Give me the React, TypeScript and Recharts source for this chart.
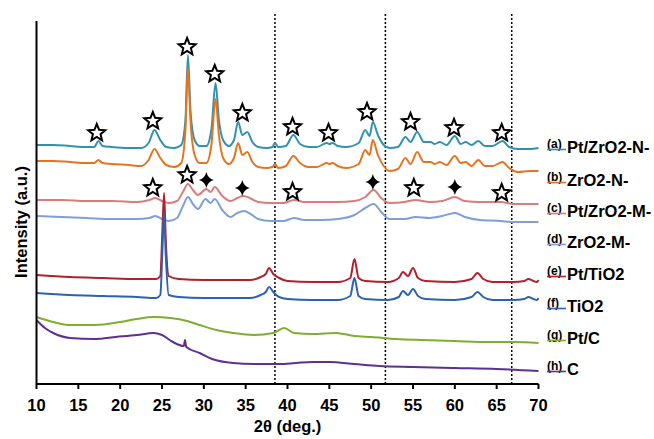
import { LineChart, Line, XAxis, YAxis, ReferenceLine, ReferenceDot } from "recharts";

type Pt = [number, number];

// 2θ (deg.) vs intensity (a.u., stacked offsets as in the figure)
const ptZrO2N: Pt[] = [
  [10, 239], [12, 239], [14, 238], [16, 237], [16.9, 237], [17.4, 243], [17.9, 238], [19, 237],
  [21, 236], [22.5, 236], [23.4, 241], [24.1, 254], [24.8, 244], [25.5, 237], [26.5, 236], [27.3, 239],
  [27.8, 264], [28.1, 329], [28.4, 274], [28.9, 244], [29.5, 238], [30.3, 238], [30.9, 254], [31.4, 301],
  [31.8, 264], [32.3, 244], [33.0, 238], [33.6, 244], [34.1, 262], [34.6, 249], [35.2, 252], [35.8, 242],
  [36.5, 237], [37.5, 236], [38.2, 237], [38.5, 241], [38.9, 237], [39.8, 238], [40.7, 249], [41.5, 240],
  [42.5, 237], [43.5, 237], [44.7, 241], [45.0, 240], [45.4, 241], [46.0, 238], [47, 237], [48.5, 241],
  [49.3, 254], [49.8, 248], [50.2, 262], [50.8, 249], [51.5, 239], [52.2, 236], [53.2, 237], [54.1, 247],
  [54.7, 242], [55.5, 252], [56.3, 242], [57.1, 242], [57.6, 240], [58.2, 242], [59.0, 239], [60.0, 248],
  [60.7, 240], [61.3, 242], [62.0, 239], [62.8, 243], [63.6, 238], [64.5, 238], [65.7, 243], [66.5, 237],
  [67.5, 235], [69, 235], [70, 236],
];

const zrO2N: Pt[] = [
  [10, 223], [12, 223], [14, 222], [16, 221], [16.9, 221], [17.4, 224], [17.9, 221], [19, 220],
  [21, 219], [22.5, 218], [23.4, 224], [24.1, 235], [24.8, 226], [25.5, 219], [26.5, 217], [27.3, 221],
  [27.8, 254], [28.1, 317], [28.4, 264], [28.9, 229], [29.5, 221], [30.3, 221], [30.9, 239], [31.4, 285],
  [31.8, 249], [32.3, 226], [33.0, 220], [33.6, 226], [34.1, 241], [34.6, 229], [35.2, 232], [35.8, 222],
  [36.5, 217], [37.5, 216], [38.2, 217], [38.5, 220], [38.9, 216], [39.8, 218], [40.7, 228], [41.5, 221],
  [42.5, 217], [43.5, 217], [44.7, 221], [45.0, 220], [45.4, 221], [46.0, 218], [47, 216], [48.5, 220],
  [49.3, 234], [49.8, 229], [50.2, 244], [50.8, 229], [51.5, 218], [52.2, 213], [53.2, 215], [54.1, 226],
  [54.7, 220], [55.5, 232], [56.3, 222], [57.1, 222], [57.6, 220], [58.2, 222], [59.0, 219], [60.0, 228],
  [60.7, 221], [61.3, 222], [62.0, 218], [62.8, 224], [63.6, 218], [64.5, 218], [65.7, 222], [66.5, 216],
  [67.5, 212], [69, 213], [70, 213],
];

const ptZrO2M: Pt[] = [
  [10, 184], [13, 184], [16, 183], [19, 183], [22, 182], [23.5, 184], [24.2, 186], [25.0, 183],
  [25.8, 181], [26.8, 183], [27.5, 192], [28.1, 200], [28.7, 194], [29.3, 189], [30.3, 195], [30.8, 192],
  [31.3, 197], [32.2, 188], [33.2, 183], [34.0, 186], [34.7, 188], [35.5, 186], [36.5, 182], [38, 181],
  [39.5, 181], [40.8, 184], [42, 182], [44, 182], [46, 182], [48, 183], [49.3, 187], [50.3, 194],
  [51.2, 186], [52.2, 181], [54, 182], [55.3, 184], [57, 182], [58.5, 183], [60.0, 187], [61.2, 183],
  [63, 182], [65.5, 182], [67, 180], [70, 180],
];

const zrO2M: Pt[] = [
  [10, 168], [13, 167], [16, 166], [19, 165], [22, 165], [23.5, 166], [24.2, 168], [25.0, 165],
  [25.8, 163], [26.8, 166], [27.5, 178], [28.1, 187], [28.7, 180], [29.3, 175], [30.2, 185], [30.8, 181],
  [31.3, 185], [32.2, 174], [33.2, 167], [34.0, 171], [34.8, 173], [35.6, 170], [36.5, 165], [38, 163],
  [39.5, 163], [40.8, 166], [42, 164], [44, 164], [46, 165], [48, 169], [49.3, 176], [50.3, 180],
  [51.2, 172], [52.2, 165], [54, 165], [55.3, 167], [57, 166], [58.5, 168], [60.0, 171], [61.2, 167],
  [63, 164], [65.5, 163], [67, 162], [70, 162],
];

const ptTiO2: Pt[] = [
  [10, 109], [14, 107], [18, 106], [22, 105], [24.3, 105], [24.8, 108], [25.05, 154], [25.25, 191],
  [25.45, 144], [25.8, 108], [27, 105], [30, 104], [33, 104], [35.5, 104], [36.8, 107], [37.4, 110],
  [37.8, 116], [38.3, 110], [39, 106], [40, 103], [43, 102], [46, 102], [47.5, 106], [48.0, 125],
  [48.5, 106], [49.3, 103], [52, 102], [53.3, 106], [53.8, 112], [54.4, 108], [55.0, 116], [55.6, 106],
  [56.5, 103], [60, 102], [62.0, 105], [62.7, 111], [63.4, 105], [64.5, 102], [67, 102], [68.3, 103],
  [68.8, 105], [69.4, 103], [69.8, 102], [70, 104],
];

const tiO2: Pt[] = [
  [10, 91], [14, 89], [18, 88], [22, 87], [24.3, 86], [24.8, 89], [25.05, 134], [25.25, 172],
  [25.45, 129], [25.8, 89], [27, 87], [30, 86], [33, 86], [35.5, 86], [36.8, 89], [37.4, 92],
  [37.8, 97], [38.3, 92], [39, 87], [40, 85], [43, 84], [46, 84], [47.5, 88], [48.0, 106],
  [48.5, 88], [49.3, 85], [52, 84], [53.3, 87], [53.8, 93], [54.4, 89], [55.0, 95], [55.6, 88],
  [56.5, 85], [60, 84], [62.0, 87], [62.7, 92], [63.4, 87], [64.5, 84], [67, 84], [68.3, 85],
  [68.8, 87], [69.4, 85], [69.8, 84], [70, 86],
];

const ptC: Pt[] = [
  [10, 67], [12, 62], [14, 59], [17, 59], [20, 62], [22, 65], [24, 67], [26, 66], [28, 63],
  [29.5, 59], [31.5, 54], [33.5, 51], [36, 49], [38.3, 51], [39.6, 56], [40.8, 51], [43, 50],
  [45.8, 51], [48, 48], [50, 47], [53, 45], [56, 44], [60, 43], [64, 42], [67, 42], [70, 41],
];

const carbon: Pt[] = [
  [10, 64], [11, 56], [12, 51], [14, 46], [17, 45], [19.5, 47], [22, 49], [24, 51], [25, 49],
  [26.3, 42], [27.6, 38], [27.75, 44], [27.9, 37], [29.5, 31], [31, 25], [33.5, 21], [36, 20],
  [39, 20], [41, 21], [43, 22], [45, 22], [48, 20], [51, 18], [55, 17], [60, 16], [65, 15], [70, 13],
];

const xTicks = [10, 15, 20, 25, 30, 35, 40, 45, 50, 55, 60, 65, 70];
const dottedAt = [38.5, 51.7, 66.8];

const starsTop: Pt[] = [
  [17.2, 251], [23.9, 263], [28.0, 337], [31.3, 310], [34.6, 271], [40.6, 257],
  [44.9, 251], [49.5, 272], [54.7, 262], [59.9, 256], [65.6, 251],
];
const starsMid: Pt[] = [[23.9, 196], [28.0, 209], [40.6, 192], [55.1, 196], [65.6, 191]];
const diamondsMid: Pt[] = [[30.3, 204], [34.6, 196], [50.2, 202], [60.0, 197]];

const seriesList = [
  { key: "a", name: "Pt/ZrO2-N-", pts: ptZrO2N, color: "#3191b0" },
  { key: "b", name: "ZrO2-N-", pts: zrO2N, color: "#e57420" },
  { key: "c", name: "Pt/ZrO2-M-", pts: ptZrO2M, color: "#d87c7c" },
  { key: "d", name: "ZrO2-M-", pts: zrO2M, color: "#7f9fd8" },
  { key: "e", name: "Pt/TiO2", pts: ptTiO2, color: "#b2202b" },
  { key: "f", name: "TiO2", pts: tiO2, color: "#2c62b0" },
  { key: "g", name: "Pt/C", pts: ptC, color: "#7fae2f" },
  { key: "h", name: "C", pts: carbon, color: "#5e3090" },
];
const legendBaselines = [153, 186, 217, 248, 280, 312, 344, 375];

const FONT = "'Liberation Sans', Arial, sans-serif";

function Star(props: any) {
  const { cx, cy } = props;
  const pts: string[] = [];
  for (let i = 0; i < 10; i++) {
    const r = i % 2 === 0 ? 9 : 4;
    const a = -Math.PI / 2 + (i * Math.PI) / 5;
    pts.push(`${cx + r * Math.cos(a)},${cy + r * Math.sin(a)}`);
  }
  return <polygon points={pts.join(" ")} fill="#fff" stroke="#000" strokeWidth={2} strokeLinejoin="miter" />;
}

function Diamond(props: any) {
  const { cx, cy } = props;
  const d = `M${cx},${cy - 8} Q${cx + 1.5},${cy - 1.5} ${cx + 7.5},${cy} Q${cx + 1.5},${cy + 1.5} ${cx},${cy + 8} Q${cx - 1.5},${cy + 1.5} ${cx - 7.5},${cy} Q${cx - 1.5},${cy - 1.5} ${cx},${cy - 8}Z`;
  return <path d={d} fill="#000" />;
}

export default function App() {
  return (
    <div style={{ position: "absolute", left: 0, top: 0, width: 654, height: 439, background: "#fff" }}>
      <LineChart width={654} height={439} margin={{ top: 21, right: 115.5, left: 0, bottom: 0 }}>
        <XAxis
          type="number"
          dataKey="x"
          domain={[10, 70]}
          ticks={xTicks}
          allowDuplicatedCategory={false}
          height={55}
          tickSize={5}
          tickMargin={10}
          axisLine={{ stroke: "#000", strokeWidth: 2 }}
          tickLine={{ stroke: "#000", strokeWidth: 2 }}
          tick={{ fill: "#000", fontSize: 16.5, fontWeight: 700, fontFamily: FONT }}
        />
        <YAxis
          type="number"
          domain={[0, 363]}
          width={36.5}
          tick={false}
          tickLine={false}
          axisLine={{ stroke: "#000", strokeWidth: 2 }}
        />
        {dottedAt.map((x) => (
          <ReferenceLine
            key={x}
            segment={[{ x, y: 0 }, { x, y: 371 }]}
            ifOverflow="visible"
            stroke="#000"
            strokeWidth={1.5}
            strokeDasharray="2 2"
          />
        ))}
        {seriesList.map((s) => (
          <Line
            key={s.key}
            data={s.pts.map(([x, y]) => ({ x, y }))}
            dataKey="y"
            type="monotone"
            stroke={s.color}
            strokeWidth={2}
            dot={false}
            isAnimationActive={false}
          />
        ))}
        {[...starsTop, ...starsMid].map(([x, y], i) => (
          <ReferenceDot key={`s${i}`} x={x} y={y} r={9} shape={Star} />
        ))}
        {diamondsMid.map(([x, y], i) => (
          <ReferenceDot key={`d${i}`} x={x} y={y} r={8} shape={Diamond} />
        ))}
      </LineChart>
      <svg
        width={654}
        height={439}
        style={{ position: "absolute", left: 0, top: 0, pointerEvents: "none" }}
        fontFamily={FONT}
        fontWeight={700}
      >
        <text x={21} y={222} transform="rotate(-90 21 222)" textAnchor="middle" dominantBaseline="central" fontSize={16.5} fill="#000">
          Intensity (a.u.)
        </text>
        <text x={287.5} y={432} textAnchor="middle" fontSize={16.5} fill="#000">
          2θ (deg.)
        </text>
        {seriesList.map((s, i) => {
          const b = legendBaselines[i];
          return (
            <g key={s.key}>
              <text x={547} y={b - 5.5} fontSize={12} fill="#000">{`(${s.key})`}</text>
              <line x1={547} x2={566} y1={b - 3.5} y2={b - 3.5} stroke={s.color} strokeWidth={1.6} />
              <text x={567} y={b} fontSize={16.5} fill="#000">{s.name}</text>
            </g>
          );
        })}
      </svg>
    </div>
  );
}
